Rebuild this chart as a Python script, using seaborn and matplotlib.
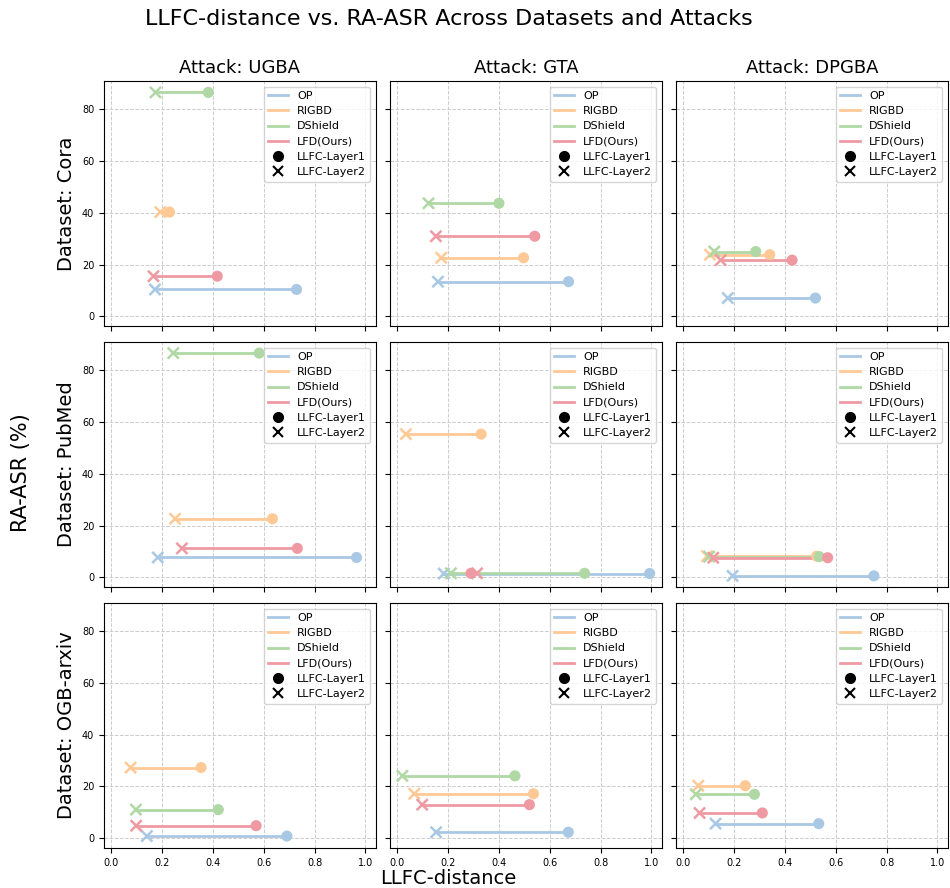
import matplotlib
matplotlib.use("Agg")
import matplotlib.pyplot as plt
from matplotlib.lines import Line2D
import seaborn as sns
import pandas as pd

datasets = ["Cora", "PubMed", "OGB-arxiv"]
attacks = ["UGBA", "GTA", "DPGBA"]
methods = ["OP", "RIGBD", "DShield", "LFD(Ours)"]

# per dataset: rows = attacks (UGBA, GTA, DPGBA), cols = methods (OP, RIGBD, DShield, LFD)
cora_layer1 = [[0.729, 0.229, 0.382, 0.417],
               [0.674, 0.497, 0.400, 0.541],
               [0.520, 0.340, 0.285, 0.428]]
cora_layer2 = [[0.172, 0.193, 0.174, 0.166],
               [0.160, 0.173, 0.123, 0.152],
               [0.175, 0.105, 0.122, 0.147]]
cora_asr = [[10.4, 40.2, 86.3, 15.5],
            [13.4, 22.6, 43.6, 30.9],
            [7.1, 23.8, 25.0, 21.7]]

pubmed_layer1 = [[0.965, 0.634, 0.582, 0.732],
                 [0.993, 0.330, 0.737, 0.290],
                 [0.750, 0.525, 0.535, 0.568]]
pubmed_layer2 = [[0.183, 0.251, 0.244, 0.278],
                 [0.183, 0.034, 0.211, 0.314],
                 [0.194, 0.094, 0.102, 0.118]]
pubmed_asr = [[7.7, 22.6, 86.4, 11.2],
              [1.5, 55.2, 1.6, 1.6],
              [0.6, 8.2, 8.0, 7.6]]

arxiv_layer1 = [[0.691, 0.353, 0.421, 0.570],
                [0.673, 0.536, 0.463, 0.520],
                [0.533, 0.244, 0.280, 0.311]]
arxiv_layer2 = [[0.140, 0.076, 0.097, 0.098],
                [0.153, 0.067, 0.020, 0.098],
                [0.127, 0.059, 0.049, 0.064]]
arxiv_asr = [[0.9, 27.3, 11.1, 4.9],
             [2.4, 17.2, 24.1, 13.0],
             [5.7, 20.3, 17.0, 9.8]]

layer1 = {"Cora": cora_layer1, "PubMed": pubmed_layer1, "OGB-arxiv": arxiv_layer1}
layer2 = {"Cora": cora_layer2, "PubMed": pubmed_layer2, "OGB-arxiv": arxiv_layer2}
asr = {"Cora": cora_asr, "PubMed": pubmed_asr, "OGB-arxiv": arxiv_asr}

colors = {"OP": "#a9c8e4", "RIGBD": "#ffc996", "DShield": "#afd8a4", "LFD(Ours)": "#ef9aa2"}

fig, axes = plt.subplots(3, 3, figsize=(9.5, 8.88), dpi=100, sharex=True, sharey=True)
fig.subplots_adjust(left=104/950, right=948/950, top=1-81/888, bottom=1-848/888,
                    wspace=0.0515, hspace=0.065)

for i, ds in enumerate(datasets):
    for j, at in enumerate(attacks):
        ax = axes[i, j]
        rows = []
        for k, m in enumerate(methods):
            rows.append({"method": m, "layer": "Layer1", "x": layer1[ds][j][k], "y": asr[ds][j][k]})
            rows.append({"method": m, "layer": "Layer2", "x": layer2[ds][j][k], "y": asr[ds][j][k]})
        df = pd.DataFrame(rows)
        sns.lineplot(data=df, x="x", y="y", hue="method", units="method", estimator=None,
                     sort=False, palette=colors, hue_order=methods, linewidth=2,
                     legend=False, ax=ax)
        d2 = df[df.layer == "Layer2"]
        d1 = df[df.layer == "Layer1"]
        sns.scatterplot(data=d2, x="x", y="y", hue="method", palette=colors, hue_order=methods,
                        marker="x", s=64, linewidth=1.8, legend=False, ax=ax, zorder=3)
        sns.scatterplot(data=d1, x="x", y="y", hue="method", palette=colors, hue_order=methods,
                        marker="o", s=64, edgecolor="none", legend=False, ax=ax, zorder=4)
        ax.grid(True, linestyle="--", color="#cccccc", linewidth=0.7)
        ax.set_axisbelow(True)
        ax.set_xlabel("")
        ax.set_ylabel("")
        ax.tick_params(labelsize=7)
        handles = [Line2D([], [], color=colors[m], lw=2, label=m) for m in methods]
        handles.append(Line2D([], [], marker="o", color="k", ls="", markersize=7, label="LLFC-Layer1"))
        handles.append(Line2D([], [], marker="x", color="k", ls="", markersize=7,
                              markeredgewidth=1.5, label="LLFC-Layer2"))
        ax.legend(handles=handles, loc="upper right", fontsize=8, labelspacing=0.47,
                  handlelength=1.8)
        if i == 0:
            ax.set_title(f"Attack: {at}", fontsize=13)
        if j == 0:
            ax.set_ylabel(f"Dataset: {ds}", fontsize=14)

axes[0, 0].set_xticks([0.0, 0.2, 0.4, 0.6, 0.8, 1.0])
axes[0, 0].set_yticks([0, 20, 40, 60, 80])

fig.suptitle("LLFC-distance vs. RA-ASR Across Datasets and Attacks", fontsize=16,
             x=0.472, y=0.99)
fig.supxlabel("LLFC-distance", fontsize=14, x=0.472, y=0.0)
fig.supylabel("RA-ASR (%)", fontsize=15, x=0.012, y=0.468)

fig.savefig("out.png", dpi=100)
